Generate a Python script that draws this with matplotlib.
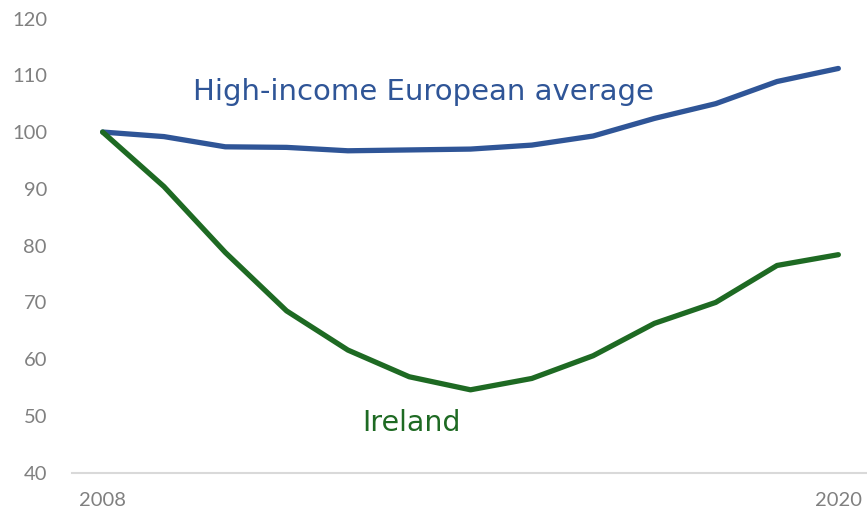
import matplotlib.pyplot as plt

years = list(range(2008, 2021))
europe = [100, 99.2, 97.4, 97.3, 96.7, 96.85, 97.0, 97.7, 99.3, 102.4, 105.0, 108.9, 111.2]
ireland = [100, 90.4, 78.8, 68.5, 61.6, 56.9, 54.6, 56.6, 60.6, 66.3, 70.0, 76.5, 78.4]
tick_years = [2008, 2020]
y_ticks = list(range(40, 121, 10))

blue = "#2F5597"
green = "#1E6A23"
grey = "#808080"

plt.rcParams["font.family"] = ["Lato", "DejaVu Sans"]

fig = plt.figure(figsize=(8.67, 5.16), dpi=100)
ax = fig.add_axes([72 / 867, 1 - 472.7 / 516, (869 - 72) / 867, (472.7 - 18.5) / 516])

ax.plot(years, europe, color=blue, linewidth=3.8, solid_capstyle="round", solid_joinstyle="round")
ax.plot(years, ireland, color=green, linewidth=3.8, solid_capstyle="round", solid_joinstyle="round")

ax.set_xlim(2007.5, 2020.5)
ax.set_ylim(40, 120)
ax.set_yticks(y_ticks)
ax.set_xticks(tick_years)
ax.tick_params(axis="both", length=0, labelsize=14.5, labelcolor=grey)
ax.tick_params(axis="y", pad=18)
ax.tick_params(axis="x", pad=14)

for side in ["top", "right", "left"]:
    ax.spines[side].set_visible(False)
ax.spines["bottom"].set_color("#D9D9D9")
ax.spines["bottom"].set_linewidth(1.5)

# series labels sit on the chart instead of a legend
ax.text(2013.23, 107.0, "High-income European average", color=blue, fontsize=21,
        family="DejaVu Sans", ha="center", va="center")
ax.text(2013.03, 48.8, "Ireland", color=green, fontsize=20.5,
        family="DejaVu Sans", ha="center", va="center")

fig.savefig("out.png", dpi=100)
